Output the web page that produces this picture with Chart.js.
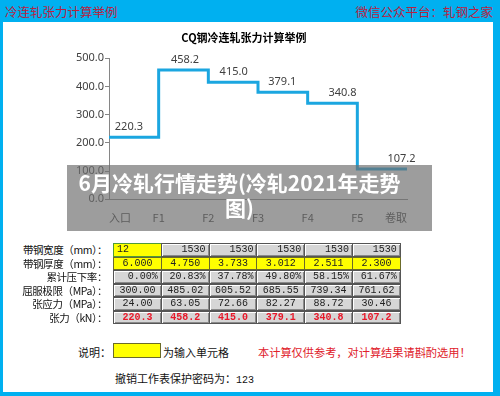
<!DOCTYPE html>
<html>
<head>
<meta charset="utf-8">
<script src="https://cdn.jsdelivr.net/npm/chart.js@4"></script>
<style>
  html,body{margin:0;padding:0;}
  body{width:500px;height:396px;background:#00b0f0;position:relative;overflow:hidden;font-family:"Noto Sans CJK SC","Noto Sans",sans-serif;}
  .abs{position:absolute;}
  #inner{left:3px;top:22px;width:490px;height:370px;background:#fff;}
  .top{top:3px;font-size:12.5px;line-height:18px;color:#b8213f;white-space:nowrap;}
  #chartBox{left:67px;top:25px;width:365px;height:205px;}
  #ctitle{left:144px;width:200px;top:30px;text-align:center;font-size:11px;line-height:14px;font-weight:bold;color:#000;white-space:nowrap;}
  #band{left:67px;top:165px;width:345px;height:61px;padding:5px 20px 0 0;background:rgba(110,110,110,0.68);color:#fff;font-weight:bold;font-size:21px;line-height:25px;text-align:center;white-space:nowrap;}
  .lbl{font-size:10.5px;letter-spacing:-0.4px;line-height:13.5px;color:#111;white-space:nowrap;text-align:right;width:110px;left:-3px;}
  .cell{box-sizing:border-box;height:13.5px;border:1px solid #555;background:#d6d6d6;box-shadow:inset 1px 1px #fff,inset -1px -1px #8a8a8a;font-family:"Liberation Mono","DejaVu Sans Mono",monospace;font-size:10px;line-height:11.5px;color:#222;padding:0 3px;white-space:nowrap;overflow:hidden;}
  .txt{font-size:11px;line-height:14px;white-space:nowrap;color:#111;}
</style>
</head>
<body>
<div id="inner" class="abs"></div>
<div class="abs top" style="left:5px;">冷连轧张力计算举例</div>
<div class="abs top" style="right:7px;">微信公众平台：轧钢之家</div>
<div id="chartBox" class="abs"><canvas id="c" width="365" height="205"></canvas></div>
<div id="ctitle" class="abs">CQ钢冷连轧张力计算举例</div>
<div id="band" class="abs">6月冷轧行情走势(冷轧2021年走势<br>图)</div>
<div id="table"></div>
<div class="abs txt" style="left:78px;top:345px;">说明：</div>
<div class="abs" style="left:113px;top:343px;width:46px;height:13px;background:#ffff00;border:1.5px solid #6b6b2a;"></div>
<div class="abs txt" style="left:163px;top:345px;">为输入单元格</div>
<div class="abs txt" style="left:258px;top:345px;color:#e0202a;font-size:11.2px;">本计算仅供参考，对计算结果请斟酌选用！</div>
<div class="abs txt" style="left:115px;top:371px;">撤销工作表保护密码为：<span style="font-family:'Liberation Mono',monospace;font-size:10px;">123</span></div>
<script>
// ---- data ----
const xLabels = ["入口", "F1", "F2", "F3", "F4", "F5", "卷取"];
const tension = [220.3, 458.2, 415.0, 379.1, 340.8, 107.2];   // kN, between stands
const labelX = [0.40, 1.53, 2.51, 3.49, 4.70, 5.89];           // where Excel put each data label (axis units)
const yTicks = { min: 0, max: 500, step: 50 };

const rowLabels = ["带钢宽度（mm）：", "带钢厚度（mm）：", "累计压下率：", "屈服极限（MPa）：", "张应力（MPa）：", "张力（kN）："];
const widthRow = ["12", "1530", "1530", "1530", "1530", "1530"];
const thickRow = ["6.000", "4.750", "3.733", "3.012", "2.511", "2.300"];
const reductionRow = ["0.00%", "20.83%", "37.78%", "49.80%", "58.15%", "61.67%"];
const yieldRow = ["300.00", "485.02", "605.52", "685.55", "739.34", "761.62"];
const stressRow = ["24.00", "63.05", "72.66", "82.27", "88.72", "30.46"];

// ---- table ----
const tbl = document.getElementById('table');
const rows = [widthRow, thickRow, reductionRow, yieldRow, stressRow, tension.map(v => v.toFixed(1))];
const align = ["right", "center", "right", "center", "center", "center"];
rows.forEach((row, r) => {
  const top = 243 + r * 13.5;
  const l = document.createElement('div');
  l.className = 'abs lbl'; l.style.top = top + 'px'; l.textContent = rowLabels[r];
  tbl.appendChild(l);
  row.forEach((val, c) => {
    const d = document.createElement('div');
    d.className = 'abs cell';
    d.style.left = (113 + c * 47.8) + 'px';
    d.style.top = top + 'px';
    d.style.width = '48.8px';
    d.style.textAlign = align[r];
    d.textContent = val;
    if (r === 1) { d.style.background = '#ffff00'; d.style.boxShadow = 'none'; d.style.borderColor = '#6b6b2a'; }
    if (r === 0 && c === 0) { d.style.background = '#ffff00'; d.style.boxShadow = 'none'; d.style.border = '1.5px solid #4f9a3a'; d.style.textAlign = 'left'; }
    if (r === 5) { d.style.color = '#e8182a'; d.style.fontWeight = 'bold'; }
    tbl.appendChild(d);
  });
});

// ---- chart ----
const stepPoints = tension.map((v, i) => ({ x: i, y: v }));
stepPoints.push({ x: tension.length, y: tension[tension.length - 1] });

const labelPlugin = {
  id: 'stepLabels',
  afterDatasetsDraw(chart) {
    const { ctx, scales: { x, y } } = chart;
    ctx.save();
    ctx.font = '11px "Noto Sans", sans-serif';
    ctx.fillStyle = '#404040';
    ctx.textAlign = 'center';
    ctx.textBaseline = 'middle';
    tension.forEach((v, i) => {
      ctx.fillText(v.toFixed(1), x.getPixelForValue(labelX[i]), y.getPixelForValue(v) - 10.5);
    });
    ctx.restore();
  }
};

new Chart(document.getElementById('c'), {
  type: 'line',
  data: {
    datasets: [{
      data: stepPoints,
      stepped: 'before',
      borderColor: '#1ba6e0',
      borderWidth: 3,
      pointRadius: 0,
      fill: false
    }]
  },
  options: {
    responsive: false,
    animation: false,
    layout: { padding: { left: 0, right: 25, top: 33.2, bottom: 0 } },
    plugins: {
      legend: { display: false },
      tooltip: { enabled: false },
      title: { display: false }
    },
    scales: {
      x: {
        type: 'linear',
        min: 0,
        max: xLabels.length - 1,
        afterFit(s) { s.height = 30.7; },
        ticks: {
          stepSize: 1,
          autoSkip: false,
          maxRotation: 0,
          align: 'inner',
          padding: 12,
          color: '#333',
          font: { family: '"Noto Sans CJK SC", sans-serif', size: 11 },
          callback: v => xLabels[v]
        },
        grid: { display: false, drawTicks: false },
        border: { color: '#868686', width: 1 }
      },
      y: {
        min: yTicks.min,
        max: yTicks.max,
        afterFit(s) { s.width = 42; },
        ticks: {
          stepSize: yTicks.step,
          padding: 1,
          color: '#404040',
          font: { family: '"Noto Sans", sans-serif', size: 11 },
          callback: v => v.toFixed(1)
        },
        grid: { drawOnChartArea: false, tickLength: 4, color: '#868686' },
        border: { color: '#868686', width: 1 }
      }
    }
  },
  plugins: [labelPlugin]
});
</script>
</body>
</html>
